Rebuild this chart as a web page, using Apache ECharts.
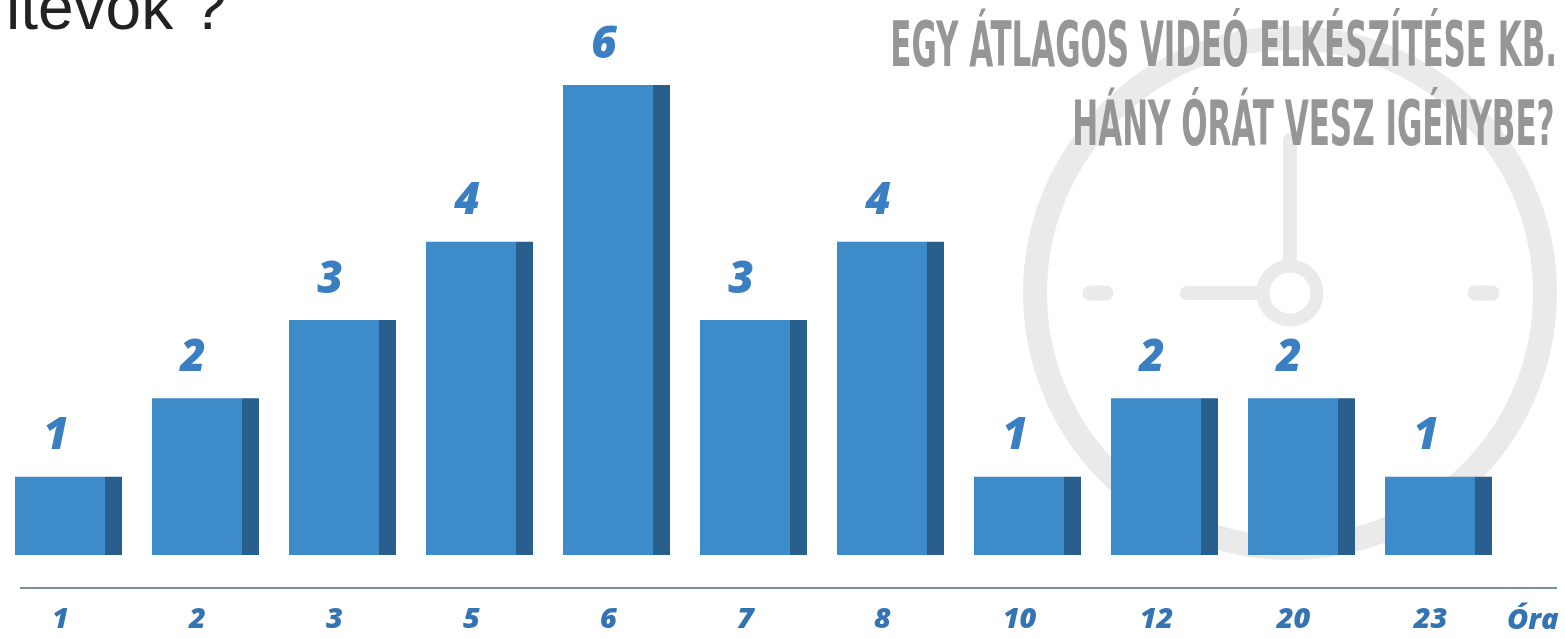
<!DOCTYPE html>
<html><head><meta charset="utf-8">
<script src="https://cdn.jsdelivr.net/npm/echarts@6/dist/echarts.min.js"></script>
<style>html,body{margin:0;padding:0;background:#fff}#c{width:1565px;height:638px}</style>
</head><body><div id="c"></div>
<script>
// ---- data ----
const categories = ['1', '2', '3', '5', '6', '7', '8', '10', '12', '20', '23'];
const videoCounts = [1, 2, 3, 4, 6, 3, 4, 1, 2, 2, 1];
const unitLabel = 'Óra';
const titleLines = ['EGY ÁTLAGOS VIDEÓ ELKÉSZÍTÉSE KB.', 'HÁNY ÓRÁT VESZ IGÉNYBE?'];
const cutHeading = 'ltevők ?';

// ---- text fitting helpers (layout only) ----
const ctx = document.createElement('canvas').getContext('2d');
function fitText(text, font, left, right, capTop, refChar) {
  ctx.font = font; ctx.textBaseline = 'middle'; ctx.textAlign = 'left';
  const m = ctx.measureText(text);
  const ink = m.actualBoundingBoxLeft + m.actualBoundingBoxRight;
  const s = (right - left) / ink;
  const r = ctx.measureText(refChar);
  return { x: left + m.actualBoundingBoxLeft * s, y: capTop + r.actualBoundingBoxAscent, s: s };
}
function placeBaseline(text, font, left, baseline) {
  ctx.font = font; ctx.textBaseline = 'middle'; ctx.textAlign = 'left';
  const m = ctx.measureText(text);
  const r = ctx.measureText('x');
  return { x: left + m.actualBoundingBoxLeft, y: baseline - r.actualBoundingBoxDescent };
}

const titleFont = 'bold 63px "DejaVu Sans Condensed", "DejaVu Sans", sans-serif';
const t1 = fitText(titleLines[0], titleFont, 893, 1554, 20, 'E');
const t2 = fitText(titleLines[1], titleFont, 1075, 1553, 99, 'H');
const headFont = 'normal 64px "Liberation Sans", Arial, sans-serif';
const h = placeBaseline(cutHeading, headFont, 10, 29);

const blue = '#3a7fc2';
const axisBlue = '#3474b3';
const labelFamily = '"Open Sans", "DejaVu Sans", sans-serif';
const clockGray = '#eaeaea';
const cx = 1290, cy = 293;

function titleText(line, p) {
  return {
    type: 'text', x: p.x, y: p.y, scaleX: p.s, scaleY: 1, z: 10,
    style: { text: line, font: titleFont, fill: '#969696', align: 'left', verticalAlign: 'middle',
             textAlign: 'left', textVerticalAlign: 'middle' }
  };
}

const chart = echarts.init(document.getElementById('c'), null, { renderer: 'canvas' });
chart.setOption({
  animation: false,
  backgroundColor: '#ffffff',
  grid: { left: 0, right: 58, top: 85, bottom: 83, containLabel: false },
  xAxis: {
    type: 'category', data: categories,
    axisLine: { show: false }, axisTick: { show: false }, splitLine: { show: false },
    axisLabel: { margin: 50, padding: [0, 16, 0, 0], color: axisBlue, fontSize: 29, fontWeight: 800, fontStyle: 'italic', fontFamily: labelFamily }
  },
  yAxis: { type: 'value', min: 0, max: 6, show: false },
  graphic: { elements: [
    // clock watermark
    { type: 'circle', z: 0, shape: { cx: cx, cy: cy, r: 255 }, style: { fill: 'none', stroke: clockGray, lineWidth: 24 } },
    { type: 'circle', z: 0, shape: { cx: cx, cy: cy, r: 27 }, style: { fill: 'none', stroke: clockGray, lineWidth: 13 } },
    { type: 'line', z: 0, shape: { x1: cx, y1: cy - 34, x2: cx, y2: 140 }, style: { stroke: clockGray, lineWidth: 14, lineCap: 'round' } },
    { type: 'line', z: 0, shape: { x1: cx - 34, y1: cy, x2: 1187, y2: cy }, style: { stroke: clockGray, lineWidth: 14, lineCap: 'round' } },
    { type: 'line', z: 0, shape: { x1: 1090, y1: cy, x2: 1106, y2: cy }, style: { stroke: clockGray, lineWidth: 15, lineCap: 'round' } },
    { type: 'line', z: 0, shape: { x1: 1475, y1: cy, x2: 1492, y2: cy }, style: { stroke: clockGray, lineWidth: 15, lineCap: 'round' } },
    // titles
    titleText(titleLines[0], t1),
    titleText(titleLines[1], t2),
    { type: 'text', x: h.x, y: h.y, z: 10,
      style: { text: cutHeading, font: headFont, fill: '#222222', align: 'left', verticalAlign: 'middle', textAlign: 'left', textVerticalAlign: 'middle' } },
    // baseline rule
    { type: 'line', z: 5, shape: { x1: 20, y1: 588, x2: 1557, y2: 588 }, style: { stroke: '#7d8e9a', lineWidth: 2 } },
    // unit label
    { type: 'text', x: 1507, y: 621, z: 10,
      style: { text: unitLabel, font: 'italic 800 29px ' + labelFamily, fill: axisBlue, align: 'left', verticalAlign: 'middle', textAlign: 'left', textVerticalAlign: 'middle' } }
  ] },
  series: [
    { type: 'bar', data: videoCounts, barWidth: 90, barGap: '0%', z: 3,
      itemStyle: { color: '#3d8bc9' },
      label: { show: true, position: 'top', distance: 18, padding: [0, 8, 0, 0], color: blue, fontSize: 44, fontWeight: 800, fontStyle: 'italic', fontFamily: labelFamily } },
    { type: 'bar', data: videoCounts, barWidth: 17, barGap: '0%', z: 3,
      itemStyle: { color: '#285f8d' } }
  ]
});
</script>
</body></html>
